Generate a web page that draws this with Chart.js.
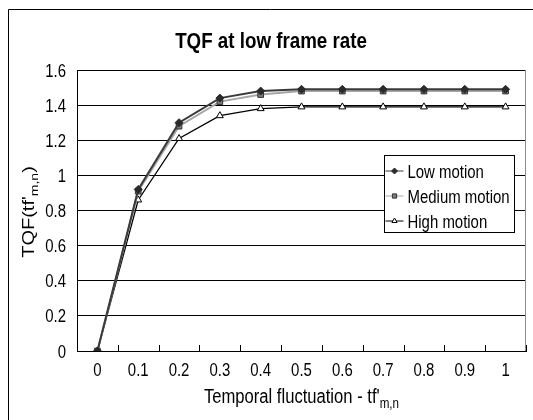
<!DOCTYPE html>
<html>
<head>
<meta charset="utf-8">
<title>TQF at low frame rate</title>
<script src="https://cdn.jsdelivr.net/npm/chart.js@4/dist/chart.umd.min.js"></script>
<style>
  html, body { margin: 0; padding: 0; background: #fff; overflow: hidden; }
  canvas { display: block; }
</style>
</head>
<body>
<canvas id="tqf" width="533" height="420"></canvas>
<script>
// Temporal fluctuation values (x categories)
const fluctuation = ['0', '0.1', '0.2', '0.3', '0.4', '0.5', '0.6', '0.7', '0.8', '0.9', '1'];

// TQF per motion class
const lowMotion    = [0, 0.92, 1.30, 1.44, 1.48, 1.49, 1.49, 1.49, 1.49, 1.49, 1.49];
const mediumMotion = [0, 0.91, 1.28, 1.42, 1.46, 1.48, 1.48, 1.48, 1.48, 1.48, 1.48];
const highMotion   = [0, 0.86, 1.21, 1.34, 1.38, 1.39, 1.39, 1.39, 1.39, 1.39, 1.39];

// Y axis range and step
const yMin = 0;
const yMax = 1.6;
const yStep = 0.2;

const seriesNames = ['Low motion', 'Medium motion', 'High motion'];
const chartTitle = 'TQF at low frame rate';
const xTitle = { main: "Temporal fluctuation - tf'", sub: 'm,n', tail: '' };
const yTitle = { main: "TQF(tf'", sub: 'm,n', tail: ')' };

const FONT = "'Liberation Sans', Arial, Helvetica, sans-serif";
const K = 0.83;           // horizontal condensing of all text
const SIZE = { tick: 18, legend: 18, title: 22.6, axis: 20 };

const fmtTick = v => String(Number(v.toFixed(1)));

// Single line of condensed text anchored at (x, y)
function condensedText(ctx, str, x, y, font, align) {
  ctx.save();
  ctx.translate(x, y);
  ctx.scale(K, 1);
  ctx.font = font;
  ctx.textAlign = align;
  ctx.textBaseline = 'alphabetic';
  ctx.fillText(str, 0, 0);
  ctx.restore();
}

// Draws "main" + subscript + "tail" centred on (0,0) of the current transform
function drawSubText(ctx, t, size) {
  const subSize = Math.round(size * 0.72);
  ctx.font = size + 'px ' + FONT;
  const wMain = ctx.measureText(t.main).width;
  const wTail = ctx.measureText(t.tail).width;
  ctx.font = subSize + 'px ' + FONT;
  const wSub = ctx.measureText(t.sub).width;
  let x = -(wMain + wSub + wTail) / 2;
  ctx.textAlign = 'left';
  ctx.textBaseline = 'alphabetic';
  ctx.font = size + 'px ' + FONT;
  ctx.fillText(t.main, x, 0);
  x += wMain;
  ctx.font = subSize + 'px ' + FONT;
  ctx.fillText(t.sub, x, size * 0.25);
  x += wSub;
  ctx.font = size + 'px ' + FONT;
  ctx.fillText(t.tail, x, 0);
}

const decorations = {
  id: 'decorations',
  beforeDraw(chart) {
    const ctx = chart.ctx;
    ctx.save();
    ctx.fillStyle = '#fff';
    ctx.fillRect(0, 0, chart.width, chart.height);
    // outer chart frame
    ctx.strokeStyle = '#000';
    ctx.lineWidth = 1;
    ctx.beginPath();
    ctx.moveTo(8.5, chart.height);
    ctx.lineTo(8.5, 9.5);
    ctx.lineTo(chart.width, 9.5);
    ctx.stroke();
    ctx.restore();
  },
  beforeDatasetsDraw(chart) {
    const ctx = chart.ctx;
    const a = chart.chartArea;
    const xs = chart.scales.x;
    ctx.save();
    // right border of the plot area
    ctx.strokeStyle = '#8c8c8c';
    ctx.lineWidth = 1;
    ctx.beginPath();
    ctx.moveTo(Math.round(a.right) - 0.5, a.top);
    ctx.lineTo(Math.round(a.right) - 0.5, a.bottom);
    ctx.stroke();
    // inside tick marks between categories
    const step = xs.getPixelForValue(1) - xs.getPixelForValue(0);
    ctx.strokeStyle = '#000';
    for (let i = 0; i <= fluctuation.length; i++) {
      const x = Math.round(xs.getPixelForValue(0) - step / 2 + i * step) + 0.5;
      ctx.beginPath();
      ctx.moveTo(x, a.bottom);
      ctx.lineTo(x, a.bottom - 6);
      ctx.stroke();
    }
    ctx.restore();
  },
  afterDraw(chart) {
    const ctx = chart.ctx;
    const a = chart.chartArea;
    const xs = chart.scales.x;
    const ys = chart.scales.y;
    ctx.save();
    ctx.fillStyle = '#000';

    // tick labels, placed by the scales
    const tickFont = SIZE.tick + 'px ' + FONT;
    xs.ticks.forEach((t, i) => {
      condensedText(ctx, xs.getLabelForValue(t.value), xs.getPixelForTick(i), a.bottom + 25, tickFont, 'center');
    });
    ys.ticks.forEach((t, i) => {
      condensedText(ctx, fmtTick(t.value), a.left - 11, ys.getPixelForTick(i) + 6.5, tickFont, 'right');
    });

    // chart title
    condensedText(ctx, chartTitle, 271, 48, 'bold ' + SIZE.title + 'px ' + FONT, 'center');

    // x axis title
    ctx.save();
    ctx.translate((a.left + a.right) / 2, 403);
    ctx.scale(K, 1);
    drawSubText(ctx, xTitle, SIZE.axis);
    ctx.restore();

    // y axis title
    ctx.save();
    ctx.translate(34, 212);
    ctx.scale(K, 1);
    ctx.rotate(-Math.PI / 2);
    drawSubText(ctx, yTitle, SIZE.axis);
    ctx.restore();

    // legend box
    const lx = 384.5, ly = 155.5, lw = 130, lh = 77;
    ctx.fillStyle = '#fff';
    ctx.fillRect(lx, ly, lw, lh);
    ctx.strokeStyle = '#000';
    ctx.lineWidth = 1;
    ctx.strokeRect(lx, ly, lw, lh);
    chart.data.datasets.forEach((ds, i) => {
      const y = 171 + i * 25;
      ctx.strokeStyle = ds.borderColor;
      ctx.lineWidth = 1;
      ctx.beginPath();
      ctx.moveTo(lx + 1, y);
      ctx.lineTo(lx + 19, y);
      ctx.stroke();
      ctx.lineWidth = ds.pointBorderWidth;
      ctx.strokeStyle = ds.pointBorderColor;
      ctx.fillStyle = ds.pointBackgroundColor;
      Chart.helpers.drawPoint(ctx, {
        pointStyle: ds.pointStyle,
        radius: ds.pointRadius * 0.75,
        rotation: 0,
        borderWidth: ds.pointBorderWidth
      }, lx + 10, y);
      ctx.fillStyle = '#000';
      condensedText(ctx, ds.label, lx + 23, y + 6.5, SIZE.legend + 'px ' + FONT, 'left');
    });
    ctx.restore();
  }
};

new Chart(document.getElementById('tqf'), {
  type: 'line',
  data: {
    labels: fluctuation,
    datasets: [
      {
        label: seriesNames[0],
        data: lowMotion,
        borderColor: '#3a3a3a',
        borderWidth: 2,
        pointStyle: 'rectRot',
        pointRadius: 4,
        pointBackgroundColor: '#2a2a2a',
        pointBorderColor: '#2a2a2a',
        pointBorderWidth: 1
      },
      {
        label: seriesNames[1],
        data: mediumMotion,
        borderColor: '#a6a6a6',
        borderWidth: 2,
        pointStyle: 'rect',
        pointRadius: 4,
        pointBackgroundColor: '#7a7a7a',
        pointBorderColor: '#333',
        pointBorderWidth: 1
      },
      {
        label: seriesNames[2],
        data: highMotion,
        borderColor: '#000',
        borderWidth: 1.3,
        pointStyle: 'triangle',
        pointRadius: 4,
        pointBackgroundColor: '#fff',
        pointBorderColor: '#000',
        pointBorderWidth: 1
      }
    ]
  },
  options: {
    responsive: false,
    animation: false,
    events: [],
    layout: { padding: { left: 0, right: 7, top: 70, bottom: 0 } },
    elements: { line: { tension: 0 } },
    plugins: {
      legend: { display: false },
      title: { display: false },
      tooltip: { enabled: false }
    },
    scales: {
      x: {
        type: 'category',
        offset: true,
        grid: { display: false, drawTicks: false },
        border: { display: true, color: '#000', width: 1 },
        ticks: { display: false, autoSkip: false },
        afterFit(scale) { scale.height = 69; }
      },
      y: {
        min: yMin,
        max: yMax,
        grid: { color: '#000', lineWidth: 1, drawTicks: false },
        border: { display: true, color: '#000', width: 1 },
        ticks: { display: false, stepSize: yStep },
        afterFit(scale) { scale.width = 77; }
      }
    }
  },
  plugins: [decorations]
});
</script>
</body>
</html>
